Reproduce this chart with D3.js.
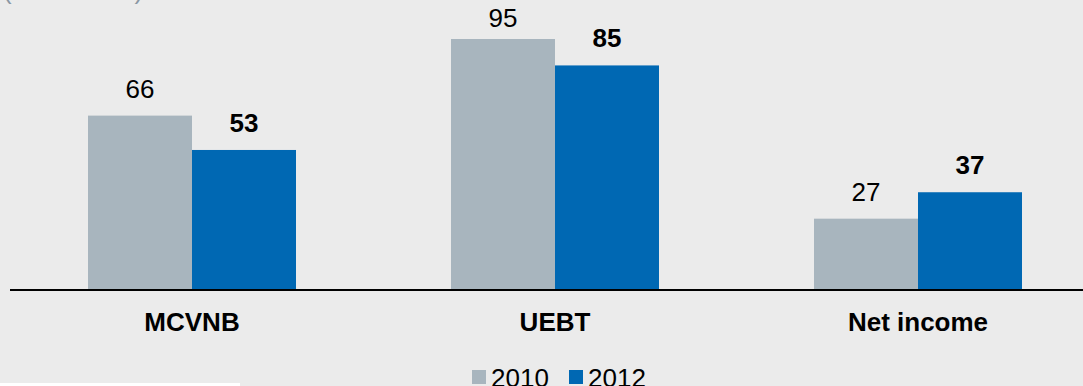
<!DOCTYPE html>
<html><head><meta charset="utf-8">
<script src="https://cdn.jsdelivr.net/npm/d3@7"></script>
<style>body{margin:0;background:#ebebeb;}svg{display:block;font-family:"Liberation Sans",Arial,sans-serif;}</style>
</head><body>
<svg id="c" width="1083" height="386"></svg>
<script>
const categories = ["MCVNB", "UEBT", "Net income"];
const series = ["2010", "2012"];
const values2010 = [66, 95, 27];
const values2012 = [53, 85, 37];
const subtitle = "(in € million)";

const W = 1083, H = 386;
const colors = {"2010": "#a8b5be", "2012": "#0068b3"};
const svg = d3.select("#c");
svg.append("rect").attr("width", W).attr("height", H).attr("fill", "#ebebeb");
svg.append("rect").attr("x", 0).attr("y", 383).attr("width", 240).attr("height", 3).attr("fill", "#ffffff");

svg.append("text").attr("x", 3).attr("y", -1).attr("fill", "#8a97a3")
  .attr("font-size", 26).text(subtitle);

const baseY = 290;
const y = d3.scaleLinear().domain([0, 95]).range([baseY, 39]);
const x0 = d3.scaleBand().domain(categories).range([10.5, 1099.5]);
const x1 = d3.scaleBand().domain(series).range([77.5, 285.5]);

const data = categories.map((c, i) => ({cat: c, vals: [
  {s: "2010", v: values2010[i]}, {s: "2012", v: values2012[i]}]}));

const g = svg.selectAll("g.grp").data(data).enter().append("g")
  .attr("transform", d => `translate(${x0(d.cat)},0)`);
g.selectAll("rect").data(d => d.vals).enter().append("rect")
  .attr("x", d => x1(d.s)).attr("width", x1.bandwidth())
  .attr("y", d => y(d.v)).attr("height", d => baseY - y(d.v))
  .attr("fill", d => colors[d.s]);
g.selectAll("text.val").data(d => d.vals).enter().append("text")
  .attr("class", "val")
  .attr("x", d => x1(d.s) + x1.bandwidth() / 2)
  .attr("y", d => Math.max(y(d.v) - 18, 27))
  .attr("text-anchor", "middle").attr("font-size", 26)
  .attr("font-weight", d => d.s === "2012" ? "bold" : "normal")
  .attr("fill", "#000").text(d => d.v);

svg.append("line").attr("x1", 10).attr("x2", W).attr("y1", baseY).attr("y2", baseY)
  .attr("stroke", "#000").attr("stroke-width", 2);

const xAxis = d3.axisBottom(x0).tickSize(0).tickPadding(0);
const ax = svg.append("g").attr("transform", `translate(0,${baseY})`).call(xAxis);
ax.select(".domain").remove();
ax.selectAll("text").attr("font-size", 26).attr("font-weight", "bold")
  .attr("fill", "#000").attr("dy", 0).attr("y", 41)
  .style("font-family", '"Liberation Sans",Arial,sans-serif');

const legX = [472, 569];
const lg = svg.selectAll("g.leg").data(series).enter().append("g")
  .attr("transform", (d, i) => `translate(${legX[i]},370)`);
lg.append("rect").attr("width", 14).attr("height", 14).attr("fill", d => colors[d]);
lg.append("text").attr("x", 19).attr("y", 17).attr("font-size", 26).attr("fill", "#000").text(d => d);
</script>
</body></html>
